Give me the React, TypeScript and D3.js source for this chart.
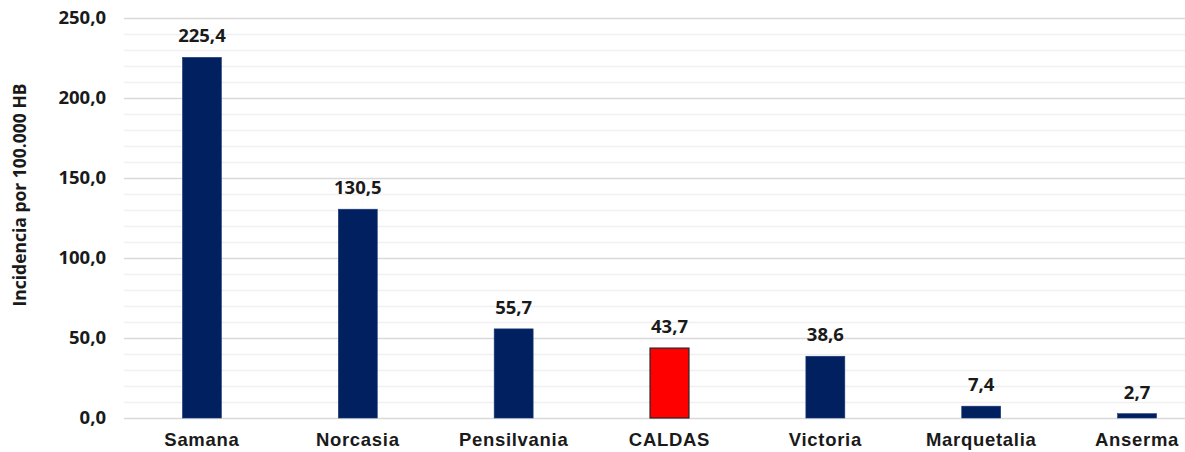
import React, { useEffect, useRef } from "react"
import * as d3 from "d3"

const categories = ["Samana", "Norcasia", "Pensilvania", "CALDAS", "Victoria", "Marquetalia", "Anserma"]
const values = [225.4, 130.5, 55.7, 43.7, 38.6, 7.4, 2.7]
const highlight = "CALDAS"
const majorTicks = [0, 50, 100, 150, 200, 250]
const minorTicks = d3.range(0, 251, 10)

const fmt = (v: number) => v.toFixed(1).replace(".", ",")

export default function App() {
  const ref = useRef<SVGSVGElement>(null)

  useEffect(() => {
    if (!ref.current) return
    const svg = d3.select(ref.current)
    svg.selectAll("*").remove()

    const width = 1185
    const height = 452
    const margin = { top: 18, right: -30, bottom: 34, left: 124 }

    const x = d3
      .scaleBand()
      .domain(categories)
      .range([margin.left, width - margin.right])
      .paddingInner(0.75)
      .paddingOuter(0.375)

    const y = d3
      .scaleLinear()
      .domain([0, 250])
      .range([height - margin.bottom, margin.top])

    // minor grid
    svg
      .append("g")
      .selectAll("line")
      .data(minorTicks.filter((t) => t % 50 !== 0))
      .join("line")
      .attr("x1", margin.left)
      .attr("x2", width)
      .attr("y1", (d) => y(d) + 0.5)
      .attr("y2", (d) => y(d) + 0.5)
      .attr("stroke", "#f0f0f0")
      .attr("stroke-width", 1.5)

    // major grid
    svg
      .append("g")
      .selectAll("line")
      .data(majorTicks)
      .join("line")
      .attr("x1", margin.left)
      .attr("x2", width)
      .attr("y1", (d) => y(d) + 0.5)
      .attr("y2", (d) => y(d) + 0.5)
      .attr("stroke", "#d9d9d9")
      .attr("stroke-width", 1.5)

    // y tick labels
    svg
      .append("g")
      .selectAll("text")
      .data(majorTicks)
      .join("text")
      .attr("x", 106)
      .attr("y", (d) => y(d))
      .attr("dy", "0.35em")
      .attr("text-anchor", "end")
      .attr("font-family", "'Open Sans', sans-serif")
      .attr("font-weight", "bold")
      .attr("font-size", 18.5)
      .attr("fill", "#1a1a1a")
      .text((d) => fmt(d))

    // y axis title
    svg
      .append("text")
      .attr("transform", `translate(26,195) rotate(-90)`)
      .attr("text-anchor", "middle")
      .attr("font-family", "'Open Sans', sans-serif")
      .attr("font-weight", "bold")
      .attr("font-size", 17.5)
      .attr("fill", "#1a1a1a")
      .text("Incidencia por 100.000 HB")

    // bars
    svg
      .append("g")
      .selectAll("rect")
      .data(categories)
      .join("rect")
      .attr("x", (d) => x(d)!)
      .attr("y", (d, i) => y(values[i]))
      .attr("width", x.bandwidth())
      .attr("height", (d, i) => y(0) - y(values[i]))
      .attr("fill", (d) => (d === highlight ? "#ff0000" : "#002060"))
      .attr("stroke", (d) => (d === highlight ? "#262626" : "#1f3a78"))
      .attr("stroke-width", (d) => (d === highlight ? 1.2 : 0.6))

    // value labels
    svg
      .append("g")
      .selectAll("text")
      .data(categories)
      .join("text")
      .attr("x", (d) => x(d)! + x.bandwidth() / 2)
      .attr("y", (d, i) => y(values[i]) - 15)
      .attr("text-anchor", "middle")
      .attr("font-family", "'Open Sans', sans-serif")
      .attr("font-weight", "bold")
      .attr("font-size", 18.5)
      .attr("fill", "#1a1a1a")
      .text((d, i) => fmt(values[i]))

    // category labels
    svg
      .append("g")
      .selectAll("text")
      .data(categories)
      .join("text")
      .attr("x", (d) => x(d)! + x.bandwidth() / 2)
      .attr("y", 446)
      .attr("text-anchor", "middle")
      .attr("font-family", "'Liberation Sans', Arial, sans-serif")
      .attr("font-weight", "bold")
      .attr("font-size", 18.5)
      .attr("letter-spacing", 0.7)
      .attr("fill", "#1a1a1a")
      .text((d) => d)
  }, [])

  return (
    <svg
      ref={ref}
      width={1185}
      height={452}
      style={{ position: "absolute", left: 0, top: 0, background: "#fff" }}
    />
  )
}
